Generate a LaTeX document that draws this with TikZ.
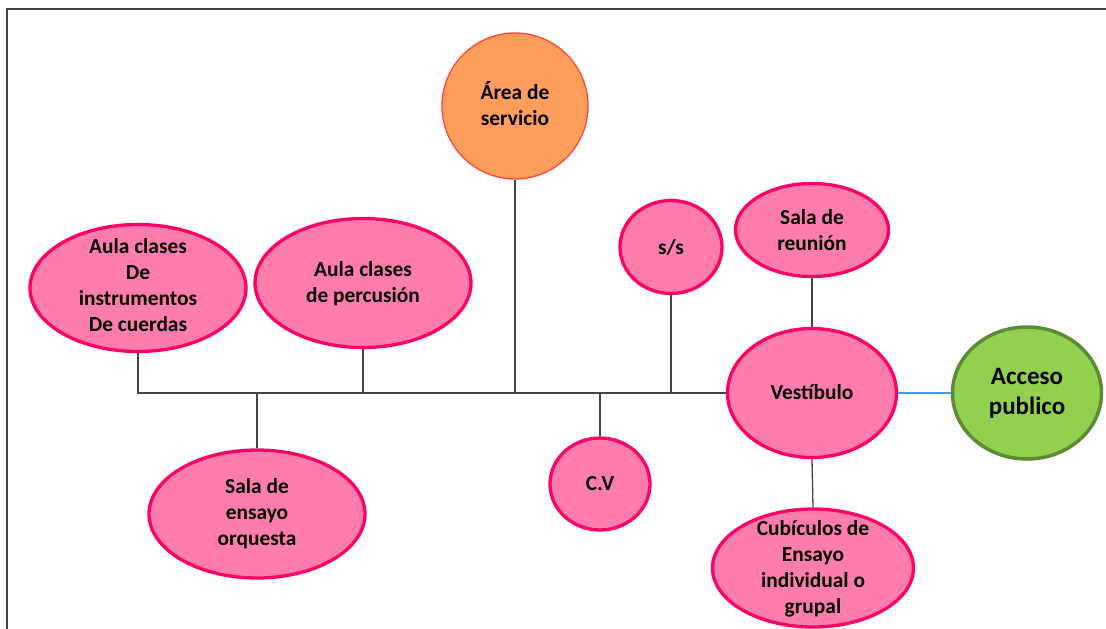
\documentclass[tikz,border=0pt]{standalone}
\usepackage{fontspec}
\setmainfont{Carlito}
\usetikzlibrary{shapes.geometric}
\definecolor{roseo}{HTML}{FF7DAD}
\definecolor{roseoborde}{HTML}{FF0066}
\definecolor{naranja}{HTML}{FF9E5C}
\definecolor{naranjaborde}{HTML}{FF4433}
\definecolor{verde}{HTML}{92D050}
\definecolor{verdeborde}{HTML}{5A8A32}
\definecolor{linea}{HTML}{444444}
\definecolor{azul}{HTML}{4A9AE0}
\begin{document}
\begin{tikzpicture}[x=1pt,y=-1pt,
  sala/.style={ellipse,draw=roseoborde,fill=roseo,line width=3.3pt,inner sep=0pt},
  servicio/.style={ellipse,draw=naranjaborde,fill=naranja,line width=1.3pt,inner sep=0pt},
  acceso/.style={ellipse,draw=verdeborde,fill=verde,line width=3.5pt,inner sep=0pt},
  txt/.style={align=center,text=black,font=\bfseries\fontsize{21.4}{26}\selectfont},
  txtg/.style={align=center,text=black,font=\bfseries\fontsize{25}{30}\selectfont},
  wire/.style={draw=linea,line width=1.3pt}]
\useasboundingbox (0,0) rectangle (1106,629);
\draw[line width=2pt,draw=linea] (7,629) -- (7,9) -- (1106,9);

\node[servicio,minimum width=146pt,minimum height=146pt] (area) at (515,106) {};
\node[txt] at (515,104) {Área de\\servicio};
\node[sala,minimum width=216pt,minimum height=127pt] (cuerdas) at (138,288) {};
\node[txt] at (138,285) {Aula clases\\De\\instrumentos\\De cuerdas};
\node[sala,minimum width=216pt,minimum height=129pt] (percusion) at (363,283) {};
\node[txt] at (363,284) {Aula clases\\de percusión};
\node[sala,minimum width=216pt,minimum height=128pt] (orquesta) at (257,514) {};
\node[txt] at (257,514) {Sala de\\ensayo\\orquesta};
\node[sala,minimum width=102pt,minimum height=93pt] (ss) at (671,247) {};
\node[txt] at (671,247) {s/s};
\node[sala,minimum width=153pt,minimum height=93pt] (reunion) at (812,230) {};
\node[txt] at (812,230) {Sala de\\reunión};
\node[sala,minimum width=100pt,minimum height=92pt] (cv) at (600,484) {};
\node[txt] at (600,484) {C.V};
\node[sala,minimum width=169pt,minimum height=129pt] (vestibulo) at (812,393) {};
\node[txt] at (812,392) {Vestíbulo};
\node[sala,minimum width=201pt,minimum height=118pt] (cubiculos) at (813,568) {};
\node[txt] at (813,569) {Cubículos de\\Ensayo\\individual o\\grupal};
\node[acceso,minimum width=149pt,minimum height=132pt] (publico) at (1027,393) {};
\node[txtg] at (1027,393) {Acceso\\publico};

\draw[wire] (cuerdas.south) |- (vestibulo.west);
\draw[wire] (percusion.south) -- (percusion.south |- vestibulo.west);
\draw[wire] (area.south) -- (area.south |- vestibulo.west);
\draw[wire] (ss.south) -- (ss.south |- vestibulo.west);
\draw[wire] (orquesta.north) -- (orquesta.north |- vestibulo.west);
\draw[wire] (cv.north) -- (cv.north |- vestibulo.west);
\draw[wire] (reunion.south) -- (vestibulo.north);
\draw[wire] (vestibulo.south) -- (cubiculos.north);
\draw[draw=azul,line width=1.2pt] (vestibulo.east) -- (publico.west);
\end{tikzpicture}
\end{document}
